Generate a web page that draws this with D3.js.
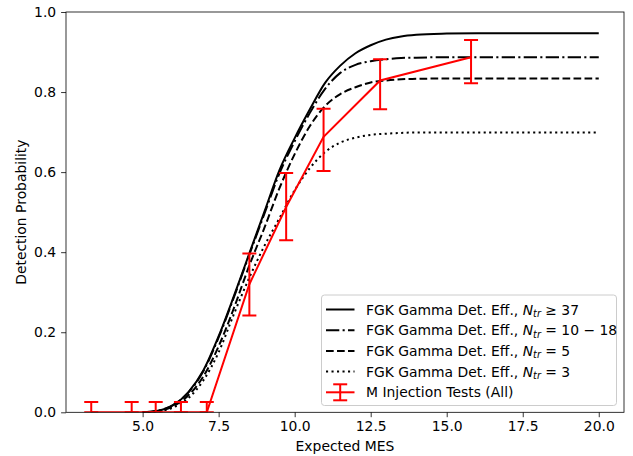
<!DOCTYPE html>
<html>
<head>
<meta charset="utf-8">
<script src="https://cdn.jsdelivr.net/npm/d3@7"></script>
<style>
  body { margin: 0; background: #fff; }
  svg { font-family: "DejaVu Sans", sans-serif; }
</style>
</head>
<body>
<div id="chart"></div>
<script>
// Model curves
const curveX = [5, 5.5, 6, 6.5, 7, 7.5, 8, 8.5, 9, 9.5, 10, 10.5, 11, 11.5, 12, 12.5, 13, 13.5, 14, 15, 16, 17, 18, 19, 20];
const effNtr37 = [0, 0.004, 0.018, 0.05, 0.105, 0.19, 0.29, 0.395, 0.50, 0.605, 0.685, 0.757, 0.823, 0.866, 0.897, 0.917, 0.931, 0.939, 0.943, 0.946, 0.947, 0.947, 0.947, 0.947, 0.947];
const effNtr10 = [0, 0.004, 0.018, 0.049, 0.103, 0.187, 0.287, 0.392, 0.495, 0.597, 0.677, 0.748, 0.808, 0.848, 0.868, 0.877, 0.882, 0.885, 0.886, 0.887, 0.887, 0.887, 0.887, 0.887, 0.887];
const effNtr5 = [0, 0.003, 0.015, 0.042, 0.09, 0.165, 0.26, 0.365, 0.46, 0.56, 0.645, 0.715, 0.765, 0.795, 0.812, 0.824, 0.829, 0.832, 0.833, 0.834, 0.834, 0.834, 0.834, 0.834, 0.834];
const effNtr3 = [0, 0.002, 0.012, 0.035, 0.08, 0.15, 0.245, 0.335, 0.415, 0.485, 0.555, 0.61, 0.65, 0.674, 0.686, 0.693, 0.696, 0.698, 0.699, 0.699, 0.699, 0.699, 0.699, 0.699, 0.699];

// M injection tests
const injX = [3.31, 4.64, 5.43, 6.26, 7.11, 8.51, 9.72, 10.95, 12.81, 15.80];
const injY = [0, 0, 0, 0, 0, 0.32, 0.513, 0.688, 0.829, 0.887];
const injHi = [0.026, 0.026, 0.026, 0.026, 0.026, 0.397, 0.598, 0.758, 0.882, 0.93];
const injLo = [0, 0, 0, 0, 0, 0.242, 0.43, 0.603, 0.757, 0.822];

const xTicks = [5, 7.5, 10, 12.5, 15, 17.5, 20];
const yTicks = [0, 0.2, 0.4, 0.6, 0.8, 1.0];

const series = [
  { y: effNtr37, dash: null, sym: "\u2265", rhs: "37" },
  { y: effNtr10, dash: "13.3,3.3,2.1,3.3", sym: "=", rhs: "10 \u2212 18" },
  { y: effNtr5, dash: "7.7,3.3", sym: "=", rhs: "5" },
  { y: effNtr3, dash: "2.1,3.4", sym: "=", rhs: "3" }
];

const W = 633, H = 456;
const m = { left: 66, right: 9, top: 12, bottom: 43.7 };

const svg = d3.select("#chart").append("svg")
  .attr("width", W).attr("height", H);

const x = d3.scaleLinear().domain([2.48, 20.83]).range([m.left, W - m.right]);
const y = d3.scaleLinear().domain([0, 1]).range([H - m.bottom, m.top]);

svg.append("defs").append("clipPath").attr("id", "plot")
  .append("rect")
  .attr("x", m.left).attr("y", m.top)
  .attr("width", W - m.left - m.right).attr("height", H - m.top - m.bottom);

const plot = svg.append("g").attr("clip-path", "url(#plot)");

const line = d3.line()
  .x(d => x(d[0]))
  .y(d => y(d[1]))
  .curve(d3.curveMonotoneX);

series.forEach(s => {
  plot.append("path")
    .datum(curveX.map((v, i) => [v, s.y[i]]))
    .attr("d", line)
    .attr("fill", "none")
    .attr("stroke", "#000")
    .attr("stroke-width", 2)
    .attr("stroke-dasharray", s.dash);
});

// injection tests: line + error bars
plot.append("path")
  .datum(injX.map((v, i) => [v, injY[i]]))
  .attr("d", d3.line().x(d => x(d[0])).y(d => y(d[1])))
  .attr("fill", "none")
  .attr("stroke", "red")
  .attr("stroke-width", 2);

const bars = plot.selectAll(".ebar").data(injX).enter().append("g");
bars.append("line")
  .attr("x1", d => x(d)).attr("x2", d => x(d))
  .attr("y1", (d, i) => y(injLo[i])).attr("y2", (d, i) => y(injHi[i]))
  .attr("stroke", "red").attr("stroke-width", 2);
bars.append("line")
  .attr("x1", d => x(d) - 7).attr("x2", d => x(d) + 7)
  .attr("y1", (d, i) => y(injHi[i])).attr("y2", (d, i) => y(injHi[i]))
  .attr("stroke", "red").attr("stroke-width", 2);
bars.append("line")
  .attr("x1", d => x(d) - 7).attr("x2", d => x(d) + 7)
  .attr("y1", (d, i) => y(injLo[i])).attr("y2", (d, i) => y(injLo[i]))
  .attr("stroke", "red").attr("stroke-width", 2);

// axes
const xAxis = svg.append("g")
  .attr("transform", `translate(0,${H - m.bottom})`)
  .call(d3.axisBottom(x).tickValues(xTicks).tickFormat(d3.format(".1f")).tickSizeOuter(0).tickSize(4.9).tickPadding(4.9));
const yAxis = svg.append("g")
  .attr("transform", `translate(${m.left},0)`)
  .call(d3.axisLeft(y).tickValues(yTicks).tickFormat(d3.format(".1f")).tickSizeOuter(0).tickSize(4.9).tickPadding(4.9));

[xAxis, yAxis].forEach(a => {
  a.select(".domain").remove();
  a.selectAll("line").attr("stroke", "#000").attr("stroke-width", 0.8);
  a.selectAll("text").attr("font-size", 13.9).attr("fill", "#000")
    .attr("font-family", "DejaVu Sans");
});
xAxis.selectAll("text").attr("dy", "0.62em");

// spines
svg.append("rect")
  .attr("x", m.left).attr("y", m.top)
  .attr("width", W - m.left - m.right).attr("height", H - m.top - m.bottom)
  .attr("fill", "none").attr("stroke", "#000").attr("stroke-width", 0.8);

svg.append("text")
  .attr("x", (m.left + W - m.right) / 2).attr("y", 451)
  .attr("text-anchor", "middle").attr("font-size", 13.9)
  .text("Expected MES");

svg.append("text")
  .attr("transform", `translate(26,${(m.top + H - m.bottom) / 2}) rotate(-90)`)
  .attr("text-anchor", "middle").attr("font-size", 13.9)
  .text("Detection Probability");

// legend
const lg = svg.append("g");
lg.append("rect")
  .attr("x", 321.5).attr("y", 295).attr("width", 295).attr("height", 110.5)
  .attr("rx", 3)
  .attr("fill", "#fff").attr("fill-opacity", 0.8)
  .attr("stroke", "#cccccc").attr("stroke-width", 1);

const rowY = [309.5, 330.2, 350.9, 371.6, 392.3];
series.forEach((s, i) => {
  lg.append("line")
    .attr("x1", 326).attr("x2", 354.5)
    .attr("y1", rowY[i]).attr("y2", rowY[i])
    .attr("stroke", "#000").attr("stroke-width", 2)
    .attr("stroke-dasharray", s.dash);
  const t = lg.append("text")
    .attr("x", 366).attr("y", rowY[i] + 5)
    .attr("font-size", 13.9);
  t.append("tspan").text("FGK Gamma Det. Eff., ");
  t.append("tspan").attr("font-style", "italic").text("N");
  t.append("tspan").attr("font-style", "italic").attr("font-size", 9.7).attr("dy", 2.5).text("tr");
  t.append("tspan").attr("dy", -2.5).text(" " + s.sym + " " + s.rhs);
});

const ey = rowY[4];
lg.append("line").attr("x1", 326).attr("x2", 354.5).attr("y1", ey).attr("y2", ey)
  .attr("stroke", "red").attr("stroke-width", 2);
lg.append("line").attr("x1", 340.2).attr("x2", 340.2).attr("y1", ey - 8).attr("y2", ey + 8)
  .attr("stroke", "red").attr("stroke-width", 2);
[ey - 8, ey + 8].forEach(v => {
  lg.append("line").attr("x1", 333.2).attr("x2", 347.2).attr("y1", v).attr("y2", v)
    .attr("stroke", "red").attr("stroke-width", 2);
});
lg.append("text").attr("x", 366).attr("y", ey + 5).attr("font-size", 13.9)
  .text("M Injection Tests (All)");
</script>
</body>
</html>
